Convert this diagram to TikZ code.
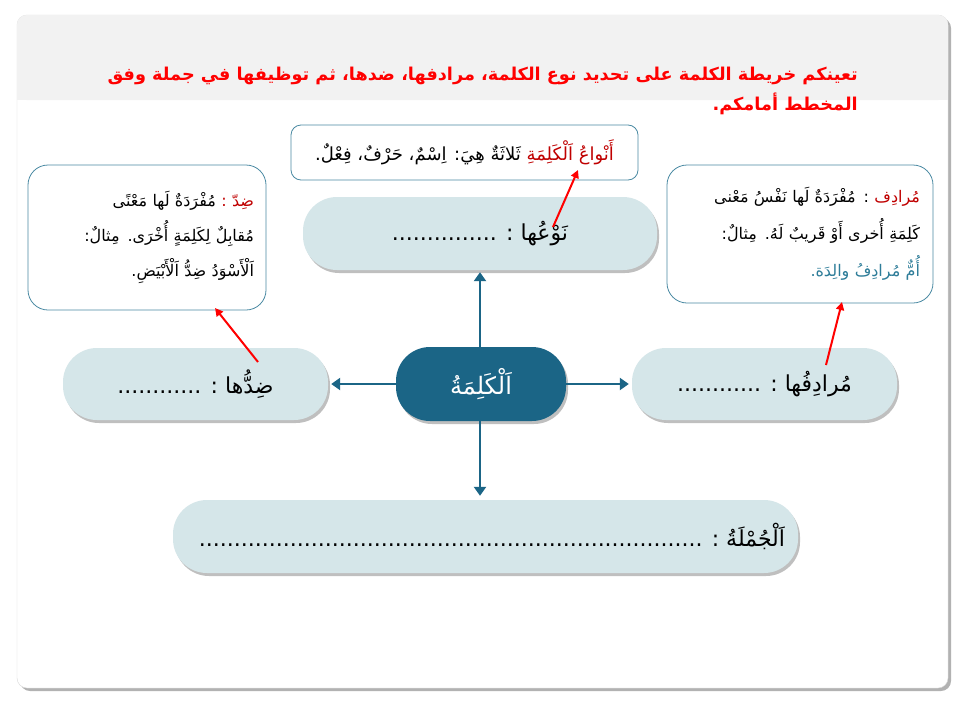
\documentclass[tikz,border=0pt]{standalone}
\usepackage{fontspec}
\TeXXeTstate=1
\newfontfamily\ar[Script=Arabic]{DejaVu Sans}
\usetikzlibrary{shadows,arrows.meta}
\definecolor{pillfill}{HTML}{D5E6E9}
\definecolor{tealc}{HTML}{1B6586}
\definecolor{darkred}{HTML}{C00000}
\definecolor{tealtext}{HTML}{2E7D99}
\definecolor{boxline}{HTML}{4A8AA3}
\definecolor{band}{HTML}{F2F2F2}
\tikzset{
  pill/.style={rounded corners=34pt, fill=pillfill, font=\ar\fontsize{22}{26}\selectfont,
    drop shadow={shadow xshift=2pt, shadow yshift=-3pt, fill=black, opacity=0.25}},
  centerpill/.style={rounded corners=34pt, fill=tealc, text=white, font=\ar\fontsize{24}{28}\selectfont,
    drop shadow={shadow xshift=2pt, shadow yshift=-3pt, fill=black, opacity=0.25}},
  infobox/.style={draw=boxline, line width=0.8pt, fill=white, font=\ar\fontsize{16}{35}\selectfont, align=right},
  conn/.style={draw=tealc, line width=2.4pt, -{Triangle[width=12pt,length=9pt]}},
  redarrow/.style={draw=red, line width=2pt, -{Triangle[width=8pt,length=8pt]}},
}
\begin{document}
\begin{tikzpicture}[x=1pt,y=-1pt]
\useasboundingbox (0,0) rectangle (960,720);
\fill[white] (0,0) rectangle (960,720);
% frame
\draw[draw=black!15, fill=white, rounded corners=10pt,
  drop shadow={shadow xshift=3pt, shadow yshift=-3pt, fill=black, opacity=0.3}] (17,15) rectangle (948,688);
\fill[band, rounded corners=10pt] (17,15) rectangle (948,100);
\fill[band] (17,80) rectangle (948,100);
% title
\node[anchor=north east, align=right, text=red, inner sep=0pt,
  font=\ar\bfseries\fontsize{17.7}{30}\selectfont] (title) at (858,67)
  {\beginR تعينكم خريطة الكلمة على تحديد نوع الكلمة، مرادفها، ضدها، ثم توظيفها في جملة وفق\endR\\
   \beginR المخطط أمامكم.\endR};
% info boxes
\node[infobox, rounded corners=10pt, minimum width=347pt, minimum height=55pt,
  font=\ar\fontsize{18}{24}\selectfont] (infotop) at (464.5,152.5)
  {\beginR ثَلاثَةٌ هِيَ: اِسْمٌ، حَرْفٌ، فِعْلٌ.\endR\ {\color{darkred}\beginR أَنْواعُ اَلْكَلِمَةِ\endR}};
\node[infobox, rounded corners=20pt, minimum width=238pt, minimum height=145pt,
  inner xsep=12pt, text width=214pt] (infoleft) at (147,237.5)
  {\beginR مُفْرَدَةٌ لَها مَعْنًى\endR\ {\color{darkred}\beginR ضِدّ :\endR}\\
   \beginR مُقابِلٌ لِكَلِمَةٍ أُخْرَى. مِثالٌ:\endR\\
   \beginR اَلْأَسْوَدُ ضِدُّ اَلْأَبْيَضِ.\endR};
\node[infobox, rounded corners=20pt, minimum width=266pt, minimum height=138pt,
  inner xsep=13pt, text width=240pt, font=\ar\fontsize{16}{37}\selectfont] (inforight) at (800,234)
  {\beginR : مُفْرَدَةٌ لَها نَفْسُ مَعْنى\endR\ {\color{darkred}\beginR مُرادِف\endR}\\
   \beginR كَلِمَةِ أُخرى أَوْ قَريبٌ لَهُ. مِثالٌ:\endR\\
   {\color{tealtext}\beginR أُمٌّ مُرادِفُ والِدَة.\endR}};
% pills
\node[pill, minimum width=354pt, minimum height=73pt] (top) at (480,233.5)
  {\beginR نَوْعُها : ...............\endR};
\node[pill, minimum width=265pt, minimum height=72pt] (left) at (195.5,384)
  {\beginR ضِدُّها : ............\endR};
\node[pill, minimum width=265pt, minimum height=72pt] (right) at (764.5,384)
  {\beginR مُرادِفُها : ............\endR};
\node[pill, minimum width=625pt, minimum height=73pt] (bottom) at (485.5,536.5)
  {\hspace*{13pt}\beginR اَلْجُمْلَةُ : ........................................................................\endR};
\node[centerpill, minimum width=170pt, minimum height=74pt] (center) at (481,384)
  {\beginR اَلْكَلِمَةُ\endR};
% teal connectors
\draw[conn] (center.north -| 480,0) -- ([yshift=-2pt]top.south -| 480,0);
\draw[conn] (center.south -| 480,0) -- ([yshift=4pt]bottom.north -| 480,0);
\draw[conn] (center.west) -- ([xshift=3pt]left.east);
\draw[conn] (center.east) -- ([xshift=-3pt]right.west);
% red arrows
\coordinate (r1s) at (553,227);
\coordinate (r1e) at (578,170);
\coordinate (r2s) at (258,362);
\coordinate (r2e) at (215,308);
\coordinate (r3s) at (826,365);
\coordinate (r3e) at (842,302);
\draw[redarrow] (r1s) -- (r1e);
\draw[redarrow] (r2s) -- (r2e);
\draw[redarrow] (r3s) -- (r3e);
\end{tikzpicture}
\end{document}
